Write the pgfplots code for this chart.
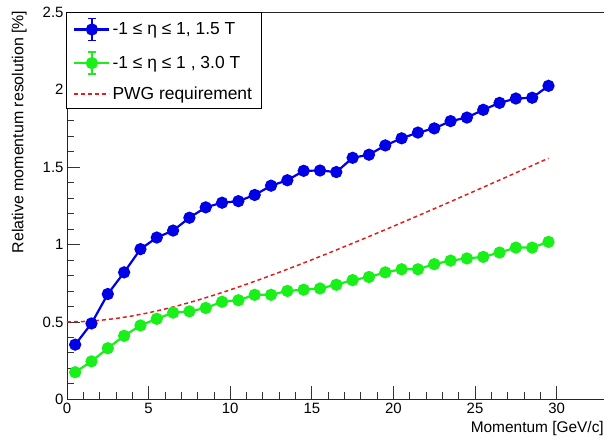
\documentclass[border=0pt]{standalone}
\usepackage{fontspec}
\setmainfont{Liberation Sans}
\usepackage{pgfplots}
\pgfplotsset{compat=1.18}
\definecolor{rblue}{RGB}{0,0,230}
\definecolor{rgreen}{RGB}{25,240,25}
\definecolor{rred}{RGB}{225,30,30}

\pgfplotstableread{
x y
0.5 0.353
1.5 0.49
2.5 0.68
3.5 0.82
4.5 0.97
5.5 1.045
6.5 1.09
7.5 1.173
8.5 1.24
9.5 1.27
10.5 1.28
11.5 1.32
12.5 1.38
13.5 1.415
14.5 1.476
15.5 1.478
16.5 1.468
17.5 1.56
18.5 1.58
19.5 1.64
20.5 1.686
21.5 1.723
22.5 1.75
23.5 1.797
24.5 1.82
25.5 1.87
26.5 1.915
27.5 1.943
28.5 1.948
29.5 2.025
}\bluedata

\pgfplotstableread{
x y
0.5 0.175
1.5 0.245
2.5 0.33
3.5 0.41
4.5 0.477
5.5 0.52
6.5 0.56
7.5 0.568
8.5 0.59
9.5 0.63
10.5 0.64
11.5 0.675
12.5 0.675
13.5 0.70
14.5 0.708
15.5 0.716
16.5 0.74
17.5 0.77
18.5 0.79
19.5 0.82
20.5 0.84
21.5 0.84
22.5 0.873
23.5 0.896
24.5 0.91
25.5 0.92
26.5 0.948
27.5 0.98
28.5 0.98
29.5 1.017
}\greendata

\pgfplotstableread{
x y
0 0.5
1 0.5025
2 0.5099
3 0.5220
4 0.5385
5 0.5590
6 0.5831
7 0.6103
8 0.6403
9 0.6727
10 0.7071
11 0.7433
12 0.7810
13 0.8201
14 0.8602
15 0.9014
16 0.9434
17 0.9862
18 1.0296
19 1.0735
20 1.1180
21 1.1630
22 1.2083
23 1.2540
24 1.3000
25 1.3463
26 1.3928
27 1.4396
28 1.4866
29 1.5338
29.5 1.5574
}\reddata

\begin{document}
\begin{tikzpicture}
\begin{axis}[
  at={(0,0)}, anchor=south west,
  scale only axis, width=537bp, height=387bp,
  xmin=0, xmax=32.9, ymin=0, ymax=2.5,
  axis x line*=bottom, axis y line*=left,
  axis line style={line width=0.9bp, black!85, -},
  xtick={0,5,...,30}, ytick={0,0.5,1,1.5,2,2.5},
  yticklabels={0,0.5,1,1.5,2,2.5},
  minor x tick num=4, minor y tick num=4,
  tick align=inside,
  major tick length=13bp, minor tick length=7bp,
  tick style={line width=0.8bp, black!80},
  /pgf/number format/assume math mode=true,
  ticklabel style={font=\fontsize{15}{17}\selectfont},
  xlabel={Momentum [GeV/c]},
  ylabel={Relative momentum resolution [\%]},
  xlabel style={font=\fontsize{15.5}{17}\selectfont, inner sep=0pt, at={(axis description cs:1,-0.085)}, anchor=base east},
  ylabel style={font=\fontsize{16}{18}\selectfont, inner sep=0pt, at={(axis description cs:-0.0745,1.005)}, anchor=south east},
  legend style={at={(axis description cs:-0.002,1)}, anchor=north west,
    draw=black, line width=0.8bp, fill=white,
    font=\fontsize{17.5}{20}\selectfont,
    inner xsep=7bp, inner ysep=5bp, nodes={inner sep=2bp},
    row sep=10bp,
    /tikz/every even column/.append style={column sep=4bp}},
  legend cell align=left,
]
\addplot[rblue, line width=2.2bp, mark=*, mark size=5bp, mark options={solid, fill=rblue, draw=rblue},
  legend image code/.code={
    \draw[rblue, line width=2.2bp] (0bp,0bp) -- (35bp,0bp);
    \draw[rblue, line width=1.6bp] (17.5bp,-11bp) -- (17.5bp,11bp);
    \draw[rblue, line width=1.6bp] (13.5bp,-11bp) -- (21.5bp,-11bp);
    \draw[rblue, line width=1.6bp] (13.5bp,11bp) -- (21.5bp,11bp);
    \fill[rblue] (17.5bp,0bp) circle (5bp);
  }] table[x=x, y=y] {\bluedata};
\addlegendentry{-1 ≤ η ≤ 1, 1.5 T}
\addplot[rgreen, line width=2.2bp, mark=*, mark size=5bp, mark options={solid, fill=rgreen, draw=rgreen},
  legend image code/.code={
    \draw[rgreen, line width=2.2bp] (0bp,0bp) -- (35bp,0bp);
    \draw[rgreen, line width=1.6bp] (17.5bp,-11bp) -- (17.5bp,11bp);
    \draw[rgreen, line width=1.6bp] (13.5bp,-11bp) -- (21.5bp,-11bp);
    \draw[rgreen, line width=1.6bp] (13.5bp,11bp) -- (21.5bp,11bp);
    \fill[rgreen] (17.5bp,0bp) circle (5bp);
  }] table[x=x, y=y] {\greendata};
\addlegendentry{-1 ≤ η ≤ 1 , 3.0 T}
\addplot[rred, line width=1.5bp, dash pattern=on 4bp off 3bp, no marks,
  legend image code/.code={
    \draw[rred, line width=1.5bp, dash pattern=on 4bp off 3bp] (0bp,0bp) -- (35bp,0bp);
  }] table[x=x, y=y] {\reddata};
\addlegendentry{PWG requirement}
\draw[line width=0.9bp, black!85] (rel axis cs:0,1) -- (rel axis cs:1,1);
\end{axis}
\pgfresetboundingbox
\path (-67bp,-38.7bp) rectangle (538bp,399.3bp);
\end{tikzpicture}
\end{document}
